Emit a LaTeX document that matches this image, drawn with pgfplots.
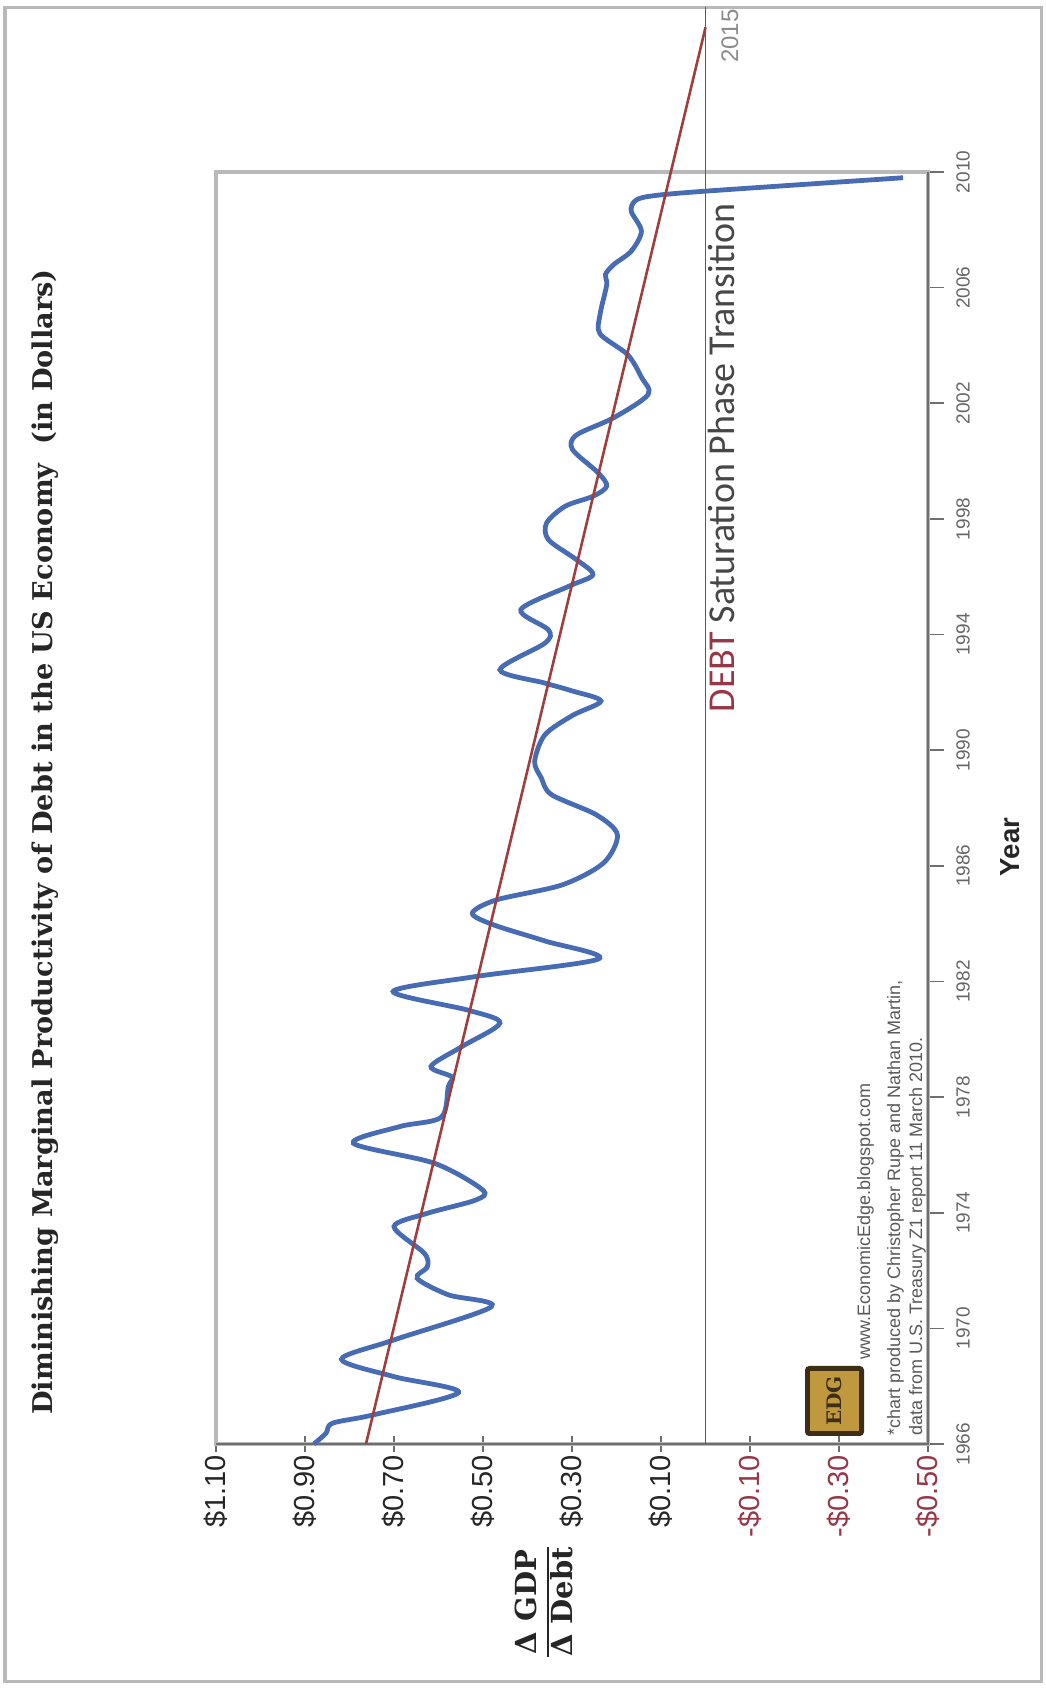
\documentclass[border=0pt]{standalone}
\usepackage{pgfplots}
\pgfplotsset{compat=1.18}
\usepackage{pgfplotstable}
\usepackage{fontspec}
\setmainfont{Liberation Sans}
\newfontfamily\serifb{DejaVu Serif}
\newfontfamily\calib{Carlito}

\definecolor{curve}{RGB}{72,108,180}
\definecolor{trend}{RGB}{158,62,62}
\definecolor{neg}{RGB}{150,55,72}
\definecolor{framegray}{RGB}{185,185,185}
\definecolor{zeroline}{RGB}{85,90,105}
\definecolor{axdark}{RGB}{110,110,110}
\definecolor{logogold}{RGB}{192,152,62}
\definecolor{logobrown}{RGB}{62,46,22}

% value (dollars) vs year, chart is drawn turned a quarter turn
\pgfplotstableread{
v      yr
0.880  1966.00
0.853  1966.37
0.838  1966.72
0.749  1967.00
0.555  1967.78
0.700  1968.33
0.818  1968.93
0.700  1969.60
0.481  1970.75
0.578  1971.16
0.648  1971.73
0.625  1972.13
0.632  1972.60
0.700  1973.52
0.625  1973.98
0.516  1974.44
0.501  1974.79
0.609  1975.71
0.791  1976.40
0.687  1976.98
0.594  1977.30
0.578  1978.36
0.570  1978.70
0.617  1979.06
0.547  1979.75
0.462  1980.56
0.532  1981.00
0.702  1981.65
0.516  1982.17
0.240  1982.78
0.361  1983.40
0.477  1983.96
0.524  1984.36
0.470  1984.82
0.322  1985.34
0.229  1986.10
0.198  1987.07
0.245  1987.76
0.346  1988.46
0.369  1989.04
0.384  1989.61
0.361  1990.53
0.299  1991.20
0.235  1991.70
0.300  1992.05
0.361  1992.32
0.462  1992.78
0.361  1993.70
0.353  1994.16
0.415  1994.86
0.307  1995.67
0.253  1996.07
0.291  1996.60
0.353  1997.28
0.357  1997.86
0.315  1998.44
0.253  1998.78
0.222  1999.13
0.241  1999.59
0.299  2000.40
0.290  2000.90
0.206  2001.50
0.129  2002.30
0.144  2002.90
0.175  2003.68
0.237  2004.40
0.237  2005.07
0.222  2006.10
0.225  2006.45
0.206  2006.80
0.167  2007.26
0.144  2007.95
0.167  2008.64
0.158  2009.00
0.125  2009.16
0.005  2009.33
-0.444 2009.80
}\ratio

\begin{document}
\begin{tikzpicture}
\begin{scope}[x=0.5bp,y=0.5bp]
\path[use as bounding box] (0,0) rectangle (1045,1690);
\draw[framegray, line width=1.5bp] (5,8) rectangle (1041,1682);
\end{scope}

\begin{axis}[
  at={(108bp,123bp)}, anchor=south west,
  scale only axis, width=356bp, height=636bp,
  xmin=-0.5, xmax=1.1, x dir=reverse,
  ymin=1966, ymax=2010,
  clip=false,
  axis line style={draw=framegray, line width=1.6bp},
  xtick pos=left, ytick pos=right,
  xtick align=center, ytick align=outside,
  major tick length=8bp,
  tick style={axdark, line width=0.8bp},
  xtick={-0.5,-0.3,-0.1,0.1,0.3,0.5,0.7,0.9,1.1},
  xticklabels={\textcolor{neg}{-\$0.50},\textcolor{neg}{-\$0.30},\textcolor{neg}{-\$0.10},\$0.10,\$0.30,\$0.50,\$0.70,\$0.90,\$1.10},
  xticklabel style={rotate=90, anchor=east, inner sep=0pt, text=black!85,
    font=\fontsize{14.5bp}{17bp}\selectfont},
  xticklabel shift=1.5bp,
  ytick={1966,1970,1974,1978,1982,1986,1990,1994,1998,2002,2006,2010},
  yticklabels={1966,1970,1974,1978,1982,1986,1990,1994,1998,2002,2006,2010},
  yticklabel style={rotate=90, anchor=north, inner sep=0pt, text=black!60,
    font=\fontsize{9.5bp}{11bp}\selectfont},
  yticklabel shift=6bp,
]
\draw[axdark, line width=1.2bp] (rel axis cs:0,0) -- (rel axis cs:1,0) -- (rel axis cs:1,1);
\addplot[zeroline, line width=0.9bp] coordinates {(0,1966) (0,2015.69)};
\addplot[curve, line width=2.4bp, smooth, tension=0.5] table[x=v, y=yr] {\ratio};
\addplot[trend, line width=1.3bp] coordinates {(0.763,1966) (0,2015)};
\node[rotate=90, anchor=base west, inner sep=0pt, font=\calib\fontsize{19bp}{22bp}\selectfont, text=black!72]
  at (axis cs:-0.065,1991.3) {\textcolor{neg}{DEBT} Saturation Phase Transition};
\node[rotate=90, anchor=north, inner sep=0pt, text=black!45, font=\fontsize{12bp}{14bp}\selectfont]
  at (axis cs:-0.035,2014.7) {2015};
\end{axis}

\begin{scope}[x=0.5bp,y=0.5bp]
% title and labels
\node[rotate=90, font=\serifb\bfseries\fontsize{13.6bp}{15bp}\selectfont, text=black!85]
  at (45,848) {Diminishing Marginal Productivity of Debt in the US Economy\ \ (in Dollars)};
\node[rotate=90, font=\serifb\bfseries\fontsize{14.5bp}{17bp}\selectfont, text=black!85, inner sep=0pt]
  at (548,88) {\setlength{\arrayrulewidth}{1bp}\begin{tabular}{@{}c@{}}Δ GDP\\\hline Δ Debt\end{tabular}};
\node[rotate=90, font=\bfseries\fontsize{13.8bp}{16bp}\selectfont, text=black!85] at (1010,843) {Year};

% credits
\fill[logobrown, rounded corners=2bp] (805,254) rectangle (864,324);
\fill[logogold] (810,259) rectangle (859,319);
\node[rotate=90, font=\serifb\bfseries\fontsize{10bp}{12bp}\selectfont, text=logobrown] at (834.5,289) {EDG};
\begin{scope}[every node/.style={rotate=90, anchor=base west, inner sep=0pt, text=black!65,
    font=\fontsize{9bp}{10.5bp}\selectfont}]
\node at (870,330) {www.EconomicEdge.blogspot.com};
\node at (900,254) {*chart produced by Christopher Rupe and Nathan Martin,};
\node at (922,254) {data from U.S. Treasury Z1 report 11 March 2010.};
\end{scope}
\end{scope}
\end{tikzpicture}
\end{document}
